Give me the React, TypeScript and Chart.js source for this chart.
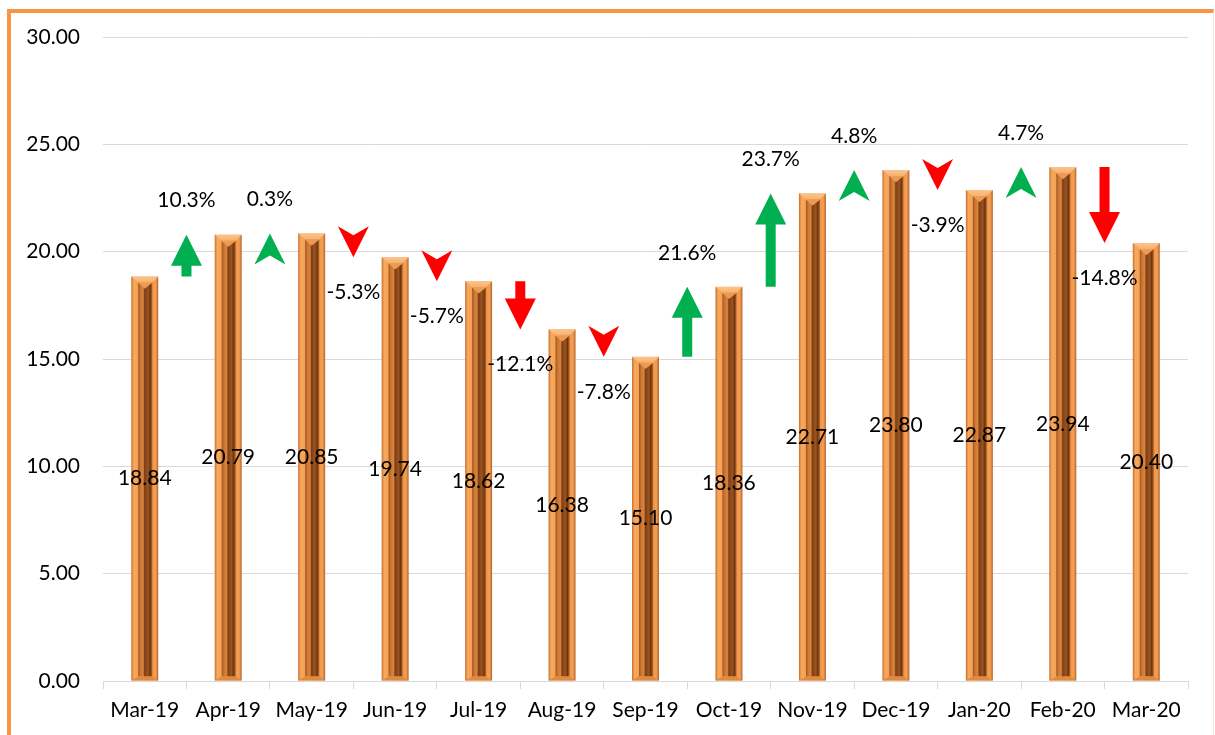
import React, { useEffect, useRef } from "react";
import { Chart, registerables } from "chart.js";

Chart.register(...registerables);

const months = ["Mar-19", "Apr-19", "May-19", "Jun-19", "Jul-19", "Aug-19", "Sep-19", "Oct-19", "Nov-19", "Dec-19", "Jan-20", "Feb-20", "Mar-20"];
const values = [18.84, 20.79, 20.85, 19.74, 18.62, 16.38, 15.1, 18.36, 22.71, 23.8, 22.87, 23.94, 20.4];
const changes = [10.3, 0.3, -5.3, -5.7, -12.1, -7.8, 21.6, 23.7, 4.8, -3.9, 4.7, -14.8];
const yMin = 0;
const yMax = 30;
const yStep = 5;

const FONT = "Lato, 'Open Sans', sans-serif";
const GREEN = "#00B050";
const RED = "#FF0000";

const barBevel = {
  id: "barBevel",
  afterDatasetsDraw(chart: any) {
    const ctx = chart.ctx;
    const meta = chart.getDatasetMeta(0);
    meta.data.forEach((el: any) => {
      const { x, y, base, width } = el.getProps(["x", "y", "base", "width"], true);
      const x0 = x - width / 2;
      const x1 = x + width / 2;
      const ix0 = x0 + width * 0.26;
      const ix1 = x1 - width * 0.22;
      const it = y + 10;
      const ib = base - 4;
      ctx.save();
      const g = ctx.createLinearGradient(x0, 0, x1, 0);
      g.addColorStop(0, "#C9712F");
      g.addColorStop(0.1, "#F7A95F");
      g.addColorStop(0.26, "#F4A052");
      g.addColorStop(0.78, "#F09444");
      g.addColorStop(0.9, "#F3A055");
      g.addColorStop(1, "#B7632A");
      ctx.fillStyle = g;
      ctx.fillRect(x0, y, width, base - y);
      ctx.beginPath();
      ctx.moveTo(x0, y);
      ctx.lineTo(x1, y);
      ctx.lineTo(ix1, it - 4);
      ctx.lineTo(ix0, it - 4);
      ctx.closePath();
      const tg = ctx.createLinearGradient(0, y, 0, it);
      tg.addColorStop(0, "#FBC48C");
      tg.addColorStop(1, "#F3A45C");
      ctx.fillStyle = tg;
      ctx.fill();
      const ig = ctx.createLinearGradient(ix0, 0, ix1, 0);
      ig.addColorStop(0, "#9E5220");
      ig.addColorStop(0.15, "#C97634");
      ig.addColorStop(0.35, "#D9853E");
      ig.addColorStop(0.45, "#7E3F14");
      ig.addColorStop(0.7, "#9A5522");
      ig.addColorStop(0.85, "#6E340F");
      ig.addColorStop(1, "#B8692E");
      ctx.fillStyle = ig;
      ctx.beginPath();
      ctx.moveTo(ix0, it - 4);
      ctx.lineTo(x, it + 2);
      ctx.lineTo(ix1, it - 4);
      ctx.lineTo(ix1, ib);
      ctx.lineTo(ix0, ib);
      ctx.closePath();
      ctx.fill();
      ctx.beginPath();
      ctx.moveTo(ix0, it - 4);
      ctx.lineTo(ix1, it - 4);
      ctx.lineTo(x, it + 2);
      ctx.closePath();
      ctx.fillStyle = "#EE9A52";
      ctx.fill();
      ctx.beginPath();
      ctx.moveTo(ix0, ib);
      ctx.lineTo(ix1, ib);
      ctx.lineTo(x1, base);
      ctx.lineTo(x0, base);
      ctx.closePath();
      ctx.fillStyle = "#E08A40";
      ctx.fill();
      ctx.restore();
    });
  },
};

const arrowsAndLabels = {
  id: "arrowsAndLabels",
  afterDatasetsDraw(chart: any) {
    const ctx = chart.ctx;
    const meta = chart.getDatasetMeta(0);
    const yScale = chart.scales.y;
    ctx.save();
    ctx.font = `21px ${FONT}`;
    ctx.fillStyle = "#000";
    ctx.textAlign = "center";
    ctx.textBaseline = "middle";
    meta.data.forEach((el: any, i: number) => {
      const { x, y, base } = el.getProps(["x", "y", "base"], true);
      ctx.fillText(values[i].toFixed(2), x, (y + base) / 2);
    });
    const headLen = 31;
    const headW = 31;
    const shaftW = 10;
    changes.forEach((c, i) => {
      const a = meta.data[i];
      const b = meta.data[i + 1];
      const cx = (a.x + b.x) / 2;
      const yPrev = yScale.getPixelForValue(values[i]);
      const yNext = yScale.getPixelForValue(values[i + 1]);
      const up = c >= 0;
      const dir = up ? 1 : -1;
      const len = Math.abs(yNext - yPrev);
      ctx.fillStyle = up ? GREEN : RED;
      ctx.beginPath();
      const hb = yNext + dir * headLen;
      if (len > headLen) {
        ctx.moveTo(cx, yNext);
        ctx.lineTo(cx + headW / 2, hb);
        ctx.lineTo(cx + shaftW / 2, hb);
        ctx.lineTo(cx + shaftW / 2, yPrev);
        ctx.lineTo(cx - shaftW / 2, yPrev);
        ctx.lineTo(cx - shaftW / 2, hb);
        ctx.lineTo(cx - headW / 2, hb);
      } else {
        ctx.moveTo(cx, yNext);
        ctx.lineTo(cx + headW / 2, hb);
        ctx.lineTo(cx, yNext + dir * (headLen - 9));
        ctx.lineTo(cx - headW / 2, hb);
      }
      ctx.closePath();
      ctx.fill();
      ctx.fillStyle = "#000";
      const ly = up ? yNext - 34 : yNext + 35;
      ctx.fillText(c.toFixed(1) + "%", cx, ly);
    });
    ctx.restore();
  },
};

export default function App() {
  const ref = useRef<HTMLCanvasElement | null>(null);
  useEffect(() => {
    if (!ref.current) return;
    const chart = new Chart(ref.current, {
      type: "bar",
      data: {
        labels: months,
        datasets: [
          {
            data: values,
            backgroundColor: "rgba(0,0,0,0)",
            borderWidth: 0,
            barThickness: 27,
          },
        ],
      },
      options: {
        responsive: false,
        animation: false,
        devicePixelRatio: 1,
        layout: { padding: { top: 37, right: 27, left: 0, bottom: 0 } },
        plugins: { legend: { display: false }, tooltip: { enabled: false }, title: { display: false } },
        scales: {
          x: {
            offset: true,
            grid: {
              offset: true,
              drawOnChartArea: false,
              drawTicks: true,
              tickLength: 8,
              color: "#D9D9D9",
            },
            border: { display: true, color: "#D9D9D9", width: 1 },
            ticks: { color: "#000", font: { family: FONT, size: 21 }, padding: 9, maxRotation: 0, autoSkip: false },
            afterFit(scale: any) {
              scale.height = 54;
            },
          },
          y: {
            min: yMin,
            max: yMax,
            ticks: {
              stepSize: yStep,
              color: "#000",
              font: { family: FONT, size: 21 },
              padding: 23,
              callback: (v: any) => Number(v).toFixed(2),
            },
            grid: { color: "#D9D9D9", drawTicks: false, lineWidth: 1 },
            border: { display: false },
            afterFit(scale: any) {
              scale.width = 103;
            },
          },
        },
      },
      plugins: [barBevel, arrowsAndLabels],
    });
    return () => chart.destroy();
  }, []);

  return (
    <div style={{ position: "fixed", left: 0, top: 0, width: 1215, height: 735, background: "#fff", overflow: "hidden" }}>
      <div
        style={{
          position: "absolute",
          left: 133,
          top: -25,
          fontFamily: FONT,
          fontWeight: 700,
          fontSize: 24,
          lineHeight: "24px",
          whiteSpace: "nowrap",
          color: "#000",
        }}
      >
        Monthly Change (%) in Average Retail Price of Commodities (Mar-19 to Mar-20)
      </div>
      <div
        style={{
          position: "absolute",
          left: 7,
          top: 9,
          width: 1202,
          height: 800,
          borderLeft: "4px solid #F79646",
          borderTop: "4px solid #F79646",
          borderRight: "1px solid #FCE4D6",
        }}
      />
      <canvas ref={ref} width={1215} height={735} style={{ position: "absolute", left: 0, top: 0, width: 1215, height: 735 }} />
    </div>
  );
}
